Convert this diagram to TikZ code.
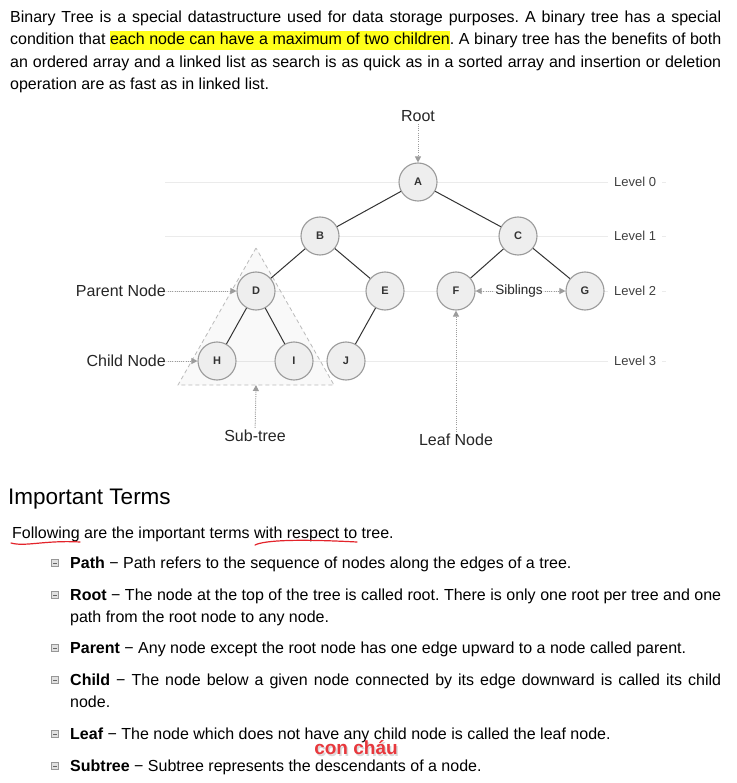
\documentclass[tikz,border=0pt]{standalone}
\usepackage{fontspec}
\setmainfont{Liberation Sans}
\usetikzlibrary{arrows.meta,scopes}
\frenchspacing

\definecolor{marker}{HTML}{FFFF1A}
\definecolor{nodefill}{HTML}{EEEEEE}
\definecolor{nodeline}{HTML}{9A9A9A}
\definecolor{edgecol}{HTML}{333333}
\definecolor{hintcol}{HTML}{9C9C9C}
\definecolor{levelcol}{HTML}{EBEBEB}
\definecolor{squiggle}{HTML}{E3242B}
\definecolor{notecol}{HTML}{E8383D}
\definecolor{bulletcol}{HTML}{A8A8A8}

% highlighted words, with stretchable highlighted gaps
\newsavebox\hlsave
\newcommand\hlword[1]{\sbox\hlsave{#1}\rlap{\textcolor{marker}{\rule[-5pt]{\wd\hlsave}{19pt}}}\usebox\hlsave}
\newcommand\hlgap{{\color{marker}\leaders\hrule height 14pt depth 5pt\hskip\fontdimen2\font plus\fontdimen3\font minus\fontdimen4\font}}

\begin{document}
\begin{tikzpicture}[x=1pt, y=-1pt, inner sep=0pt,
		txt/.style={anchor=base west, font=\fontsize{16}{22}\selectfont},
		treenode/.style={circle, draw=nodeline, line width=1.1pt, fill=nodefill, minimum size=38pt, font=\fontsize{11}{11}\selectfont\bfseries, text=edgecol},
		hint/.style={hintcol, line width=1pt, dash pattern=on 1pt off 1.2pt, -{Triangle[length=6pt,width=6pt]}},
		levelline/.style={levelcol, line width=0.8pt},
		levellabel/.style={font=\fontsize{13}{13}\selectfont, text=black!75, fill=white, inner xsep=6pt, anchor=west},
		tag/.style={font=\fontsize{16}{16}\selectfont, text=black!85, inner sep=2pt},
		bullet/.style={draw=bulletcol!90!black, fill=bulletcol!35, minimum size=7pt, line width=0.7pt,
			path picture={\draw[bulletcol!60!black, line width=1pt] ([xshift=1.8pt]path picture bounding box.west) -- ([xshift=-1.8pt]path picture bounding box.east);}}]

	\fill[white] (0,0) rectangle (736,783);
	\useasboundingbox (0,0) rectangle (736,783);

	% paragraph
	\node[txt] (p1) at (10,22.5) {\makebox[711pt][s]{Binary Tree is a special datastructure used for data storage purposes. A binary tree has a special}};
	\node[txt] (p2) at (10,45) {\makebox[711pt][s]{condition that \hlword{each}\hlgap\hlword{node}\hlgap\hlword{can}\hlgap\hlword{have}\hlgap\hlword{a}\hlgap\hlword{maximum}\hlgap\hlword{of}\hlgap\hlword{two}\hlgap\hlword{children}. A binary tree has the benefits of both}};
	\node[txt] (p3) at (10,67.5) {\makebox[711pt][s]{an ordered array and a linked list as search is as quick as in a sorted array and insertion or deletion}};
	\node[txt] (p4) at (10,90) {operation are as fast as in linked list.};

	% levels
	{ [every node/.style=levellabel]
		\node (L0) at (608,182) {Level 0};
		\node (L1) at (608,236) {Level 1};
		\node (L2) at (608,291) {Level 2};
		\node (L3) at (608,361) {Level 3};
	}
	\coordinate (g0) at (165,182);
	\coordinate (g1) at (165,236);
	\coordinate (g2) at (165,291);
	\coordinate (g3) at (165,361);
	\foreach \i in {0,...,3}
		\draw[levelline] (g\i) -- (L\i.west) (L\i.east) -- ++(4,0);

	% sub-tree
	\coordinate (top) at (256,248);
	\coordinate (bl) at (178,385);
	\coordinate (br) at (334,385);
	\coordinate (base) at (256,385);
	\draw[hintcol!70, line width=0.8pt, dash pattern=on 4pt off 3pt, fill=black, fill opacity=0.025] (top) -- (bl) -- (br) -- cycle;

	% tree
	{ [every node/.style=treenode]
		\node (A) at (418,182) {A};
		\node (B) at (320,236) {B};
		\node (C) at (518,236) {C};
		\node (D) at (256,291) {D};
		\node (E) at (385,291) {E};
		\node (F) at (456,291) {F};
		\node (G) at (585,291) {G};
		\node (H) at (217,361) {H};
		\node (I) at (294,361) {I};
		\node (J) at (346,361) {J};
	}

	{ [edgecol, line width=1pt]
		\draw (A) -- (B);
		\draw (A) -- (C);
		\draw (B) -- (D);
		\draw (B) -- (E);
		\draw (C) -- (F);
		\draw (C) -- (G);
		\draw (D) -- (H);
		\draw (D) -- (I);
		\draw (E) -- (J);
	}

	% hints
	\node[tag] (root) at (418,116) {Root};
	\node[tag, anchor=east] (parent) at (168,291) {Parent Node};
	\node[tag, anchor=east] (child) at (168,361) {Child Node};
	\node[tag, font=\fontsize{13.5}{13.5}\selectfont] (sib) at (519,291) {Siblings};
	\node[tag] (sub) at (255,436) {Sub-tree};
	\node[tag] (leaf) at (456,440) {Leaf Node};

	{ [hint]
		\draw (root) -- (A);
		\draw (parent) -- (D);
		\draw (child) -- (H);
		\draw (sib) -- (F);
		\draw (sib) -- (G);
		\draw (sub) -- (base);
		\draw (leaf) -- (F);
	}

	% terms
	\node[txt, font=\fontsize{22.5}{26}\selectfont] (head) at (8,504) {Important Terms};
	\node[txt] (intro) at (12,538) {Following are the important terms with respect to tree.};
	\draw[squiggle, line width=1.2pt, line cap=round] (11,543) .. controls (25,547) and (45,540) .. (80,542);
	\draw[squiggle, line width=1.2pt, line cap=round] (255,545) .. controls (265,540) and (300,539) .. (357,542);

	\foreach \y in {568,600,653,685,739,771}
		\node[bullet] (b\y) at (55,\y-5) {};

	\node[txt] (t1) at (70,568) {\textbf{Path} − Path refers to the sequence of nodes along the edges of a tree.};
	\node[txt] (t2) at (70,600) {\makebox[651pt][s]{\textbf{Root} − The node at the top of the tree is called root. There is only one root per tree and one}};
	\node[txt] (t2b) at (70,622) {path from the root node to any node.};
	\node[txt] (t3) at (70,653) {\textbf{Parent} − Any node except the root node has one edge upward to a node called parent.};
	\node[txt] (t4) at (70,685) {\makebox[651pt][s]{\textbf{Child} − The node below a given node connected by its edge downward is called its child}};
	\node[txt] (t4b) at (70,707) {node.};
	\node[txt] (t5) at (70,739) {\textbf{Leaf} − The node which does not have any child node is called the leaf node.};
	\node[txt] (t6) at (70,771) {\textbf{Subtree} − Subtree represents the descendants of a node.};

	\node[font=\fontsize{19}{19}\selectfont\bfseries, text=black, opacity=0.15] (shade) at (357.5,749.5) {con cháu};
	\node[font=\fontsize{19}{19}\selectfont\bfseries, text=notecol] (note) at (356,748) {con cháu};
\end{tikzpicture}
\end{document}
